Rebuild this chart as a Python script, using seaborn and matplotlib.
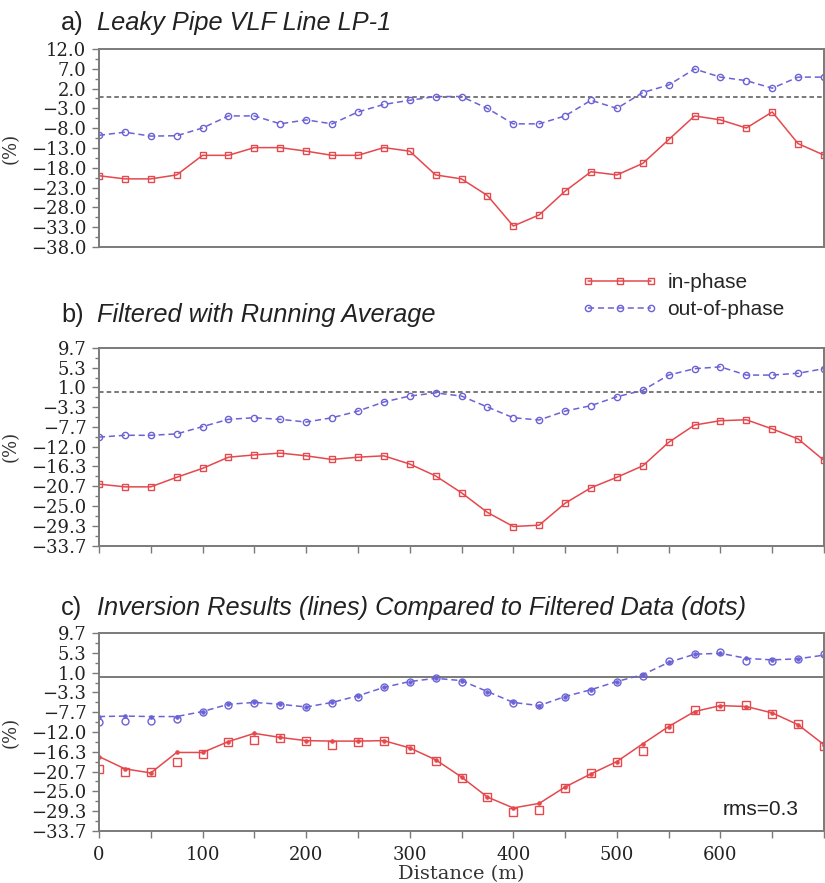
import numpy as np
import pandas as pd
import matplotlib
matplotlib.use("Agg")
import matplotlib.pyplot as plt
from matplotlib.lines import Line2D
from matplotlib.ticker import FixedLocator, FuncFormatter
import seaborn as sns

# ---------------- data ----------------
distance = list(range(0, 701, 25))

raw_inphase = [-20.0, -20.8, -20.8, -19.8, -14.85, -14.85, -12.9, -12.9, -13.8, -14.85,
               -14.85, -12.9, -13.8, -19.8, -20.8, -25.0, -32.7, -29.9, -23.9, -19.0,
               -19.8, -16.9, -10.9, -4.9, -5.9, -7.95, -3.9, -11.9, -14.8]
raw_outphase = [-9.8, -9.0, -10.0, -9.9, -7.95, -4.9, -4.9, -6.9, -5.9, -6.9,
                -3.9, -2.0, -0.95, 0.0, 0.0, -3.0, -6.9, -6.9, -4.9, -0.95,
                -3.0, 1.0, 2.9, 6.95, 4.9, 4.0, 2.1, 4.9, 4.9]

filt_inphase = [-20.2, -20.8, -20.8, -18.7, -16.75, -14.3, -13.8, -13.4, -14.0, -14.8,
                -14.3, -14.0, -15.8, -18.4, -22.1, -26.4, -29.5, -29.2, -24.4, -21.0,
                -18.7, -16.2, -11.05, -7.25, -6.3, -6.1, -8.1, -10.3, -15.0]
filt_outphase = [-9.9, -9.5, -9.5, -9.2, -7.6, -6.0, -5.65, -6.0, -6.6, -5.65,
                 -4.2, -2.2, -0.9, -0.2, -0.9, -3.3, -5.65, -6.15, -4.2, -3.0,
                 -1.05, 0.35, 3.7, 5.1, 5.5, 3.7, 3.7, 4.1, 5.1]

inv_inphase = [-17.4, -20.1, -21.0, -16.5, -16.5, -14.1, -12.3, -13.2, -13.9, -14.0,
               -14.0, -13.9, -15.5, -18.1, -21.9, -26.3, -28.7, -27.7, -24.1, -21.2,
               -18.5, -14.6, -10.8, -7.5, -6.2, -6.4, -7.8, -10.4, -14.8]
inv_outphase = [-8.6, -8.5, -8.6, -8.6, -7.5, -5.9, -5.5, -5.9, -6.5, -5.5,
                -4.05, -2.2, -0.9, -0.2, -0.7, -3.1, -5.5, -6.2, -4.2, -2.7,
                -0.9, 0.6, 3.3, 5.1, 5.3, 4.2, 3.85, 4.1, 4.9]

yticks_a = [12.0, 7.0, 2.0, -3.0, -8.0, -13.0, -18.0, -23.0, -28.0, -33.0, -38.0]
yticks_bc = [9.7, 5.3, 1.0, -3.3, -7.7, -12.0, -16.3, -20.7, -25.0, -29.3, -33.7]
xticks_major = [0, 100, 200, 300, 400, 500, 600]
xticks_all = list(range(0, 701, 50))

titles = [("a)", "Leaky Pipe VLF Line LP-1"),
          ("b)", "Filtered with Running Average"),
          ("c)", "Inversion Results (lines) Compared to Filtered Data (dots)")]
series_labels = ["in-phase", "out-of-phase"]

# ---------------- style ----------------
sns.set_style("ticks")
plt.rcParams['font.family'] = ['Liberation Sans', 'DejaVu Sans']

RED = '#e5484d'
BLUE = '#6b62d6'
GREY = '#7a7a7a'
SERIF = ['DejaVu Serif']

W, H = 825, 883
fig = plt.figure(figsize=(W / 100, H / 100), dpi=100)


def fbox(left, top, right, bottom):
    return [left / W, 1 - bottom / H, (right - left) / W, (bottom - top) / H]


ax_a = fig.add_axes(fbox(99, 49, 824, 247))
ax_b = fig.add_axes(fbox(99, 347.7, 824, 545.7))
ax_c = fig.add_axes(fbox(99, 633.3, 824, 830.7))

fmt = FuncFormatter(lambda v, p: f"{v:.1f}".replace('-', '\u2212'))


def style_axis(ax, yticks, xticks_on, xlabels_on):
    ax.set_xlim(0, 700)
    ax.set_ylim(yticks[-1], yticks[0])
    ax.yaxis.set_major_locator(FixedLocator(yticks))
    mids = [(yticks[i] + yticks[i + 1]) / 2 for i in range(len(yticks) - 1)]
    ax.yaxis.set_minor_locator(FixedLocator(mids))
    ax.yaxis.set_major_formatter(fmt)
    for s in ax.spines.values():
        s.set_color(GREY)
        s.set_linewidth(1.4)
        s.set_visible(True)
    ax.tick_params(axis='y', which='major', direction='out', length=5, width=1,
                   color=GREY, labelsize=13, pad=4)
    ax.tick_params(axis='y', which='minor', direction='out', length=3, width=1,
                   color=GREY)
    if xticks_on:
        ax.xaxis.set_major_locator(FixedLocator(xticks_all))
        ax.xaxis.set_minor_locator(FixedLocator([]))
        if xlabels_on:
            ax.xaxis.set_major_formatter(FuncFormatter(
                lambda v, p: f"{int(v)}" if int(v) in xticks_major else ""))
        else:
            ax.set_xticklabels([])
        ax.tick_params(axis='x', which='major', direction='out', length=5, width=1,
                       color=GREY, labelsize=13, pad=6)
    else:
        ax.set_xticks([])
    for lab in ax.get_yticklabels() + ax.get_xticklabels():
        lab.set_fontfamily(SERIF)
        lab.set_color('#222222')
    ax.set_ylabel("(%)", fontsize=13, fontfamily=SERIF, color='#333333')
    ax.yaxis.set_label_coords(-0.109, 0.5)
    ax.set_xlabel("")
    ax.grid(False)


# panel a
ax_a.axhline(0, color='#555555', lw=1.1, ls=(0, (3, 2)), zorder=1)
sns.lineplot(x=distance, y=raw_inphase, ax=ax_a, color=RED, lw=1.1, marker='s',
             markersize=5, markerfacecolor='none', markeredgecolor=RED, markeredgewidth=1)
sns.lineplot(x=distance, y=raw_outphase, ax=ax_a, color=BLUE, lw=1.1, linestyle=(0, (4, 2.5)),
             marker='o', markersize=4.5, markerfacecolor='none', markeredgecolor=BLUE,
             markeredgewidth=1)
style_axis(ax_a, yticks_a, False, False)

# panel b
ax_b.axhline(0, color='#555555', lw=1.1, ls=(0, (3, 2)), zorder=1)
sns.lineplot(x=distance, y=filt_inphase, ax=ax_b, color=RED, lw=1.1, marker='s',
             markersize=5, markerfacecolor='none', markeredgecolor=RED, markeredgewidth=1)
sns.lineplot(x=distance, y=filt_outphase, ax=ax_b, color=BLUE, lw=1.1, linestyle=(0, (4, 2.5)),
             marker='o', markersize=4.5, markerfacecolor='none', markeredgecolor=BLUE,
             markeredgewidth=1)
style_axis(ax_b, yticks_bc, True, False)

# panel c
ax_c.axhline(0, color=GREY, lw=1.4, zorder=1)
sns.lineplot(x=distance, y=inv_inphase, ax=ax_c, color=RED, lw=1.1, marker='o',
             markersize=2.5, markerfacecolor=RED, markeredgecolor=RED)
sns.lineplot(x=distance, y=inv_outphase, ax=ax_c, color=BLUE, lw=1.1, linestyle=(0, (4, 2.5)),
             marker='o', markersize=2.5, markerfacecolor=BLUE, markeredgecolor=BLUE)
sns.lineplot(x=distance, y=filt_inphase, ax=ax_c, color=RED, linestyle='none', marker='s',
             markersize=5.5, markerfacecolor='none', markeredgecolor=RED, markeredgewidth=1)
sns.lineplot(x=distance, y=filt_outphase, ax=ax_c, color=BLUE, linestyle='none', marker='o',
             markersize=5, markerfacecolor='none', markeredgecolor=BLUE, markeredgewidth=1)
style_axis(ax_c, yticks_bc, True, True)
ax_c.set_xlabel("Distance (m)", fontsize=14, fontfamily=SERIF, color='#333333', labelpad=1)
ax_c.text(0.9656, 0.08, "rms=0.3", transform=ax_c.transAxes, ha='right', va='baseline',
          fontsize=15, color='#222222')

# titles
baselines = [30, 322, 615]
for (tag, txt), yb in zip(titles, baselines):
    fig.text(61 / W, 1 - yb / H, tag, fontsize=18.3, ha='left', va='baseline', color='#222222')
    fig.text(97 / W, 1 - yb / H, txt, fontsize=18.3, style='italic', ha='left',
             va='baseline', color='#222222')

# legend
handles = [Line2D([0], [0], color=RED, lw=1.1, marker='s', markersize=5,
                  markerfacecolor='none', markeredgecolor=RED),
           Line2D([0], [0], color=BLUE, lw=1.1, ls=(0, (4, 2.5)), marker='o', markersize=4.5,
                  markerfacecolor='none', markeredgecolor=BLUE)]
fig.legend(handles, series_labels, loc='upper left', bbox_to_anchor=(582 / W, 1 - 273 / H),
           frameon=False, numpoints=3, handlelength=3.6, handletextpad=0.5,
           fontsize=15, labelspacing=0.38, borderaxespad=0, borderpad=0)

fig.savefig("out.png", dpi=100)
